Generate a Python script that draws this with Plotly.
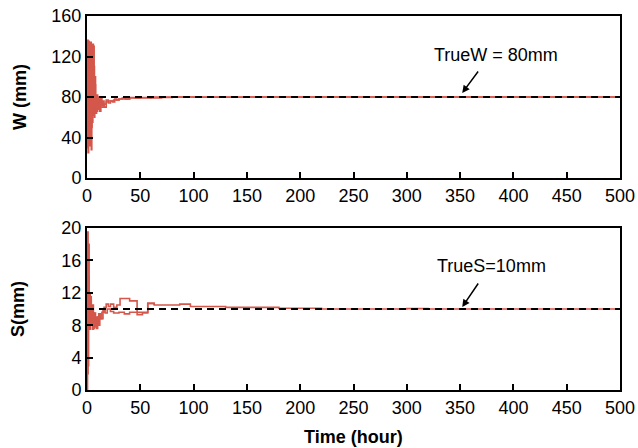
import plotly.graph_objects as go
from plotly.subplots import make_subplots

# ---- data ----
t_w1 = [0, 0.5, 1.0, 1.5, 2.0, 2.5, 3.0, 3.5, 4.0, 4.5, 5.0, 5.5, 6.0, 6.5, 7.0, 7.5, 8.0, 9.0, 10, 11,
        12, 13, 14, 15, 16, 18, 20, 22, 24, 26, 28, 30, 33, 36, 40, 45, 50, 60, 70, 80, 100, 150, 200, 300, 500]
w1 = [30, 136, 25, 135, 32, 128, 40, 134, 28, 120, 55, 132, 62, 110, 68, 92, 64, 82, 70, 78,
      66, 80, 72, 76, 70, 77, 74, 76, 75, 78, 77, 78, 79, 78, 79.5, 79, 79.5, 79, 79.5, 80, 79.8, 80, 80, 80, 80]

t_w2 = [0, 0.7, 1.3, 2.0, 2.7, 3.3, 4.0, 4.7, 5.3, 6.0, 6.7, 7.3, 8.0, 9.0, 10, 11, 12, 14, 16, 18,
        20, 25, 30, 40, 60, 500]
w2 = [35, 100, 45, 122, 38, 95, 50, 115, 72, 130, 60, 100, 72, 66, 80, 68, 74, 70, 73, 75,
      76, 77, 78, 79, 80, 80]

t_s1 = [0, 0.5, 1.0, 1.5, 2.0, 2.5, 3.0, 3.5, 4, 5, 6, 7, 8, 9, 10, 11, 12, 14, 16, 18,
        20, 22, 25, 28, 31, 40, 47, 57, 63, 70, 87, 97, 130, 180, 220, 300, 320, 500]
s1 = [0, 19.5, 3, 18, 8, 12, 9, 11.5, 8, 10.5, 7.6, 9.5, 7.8, 9, 8.2, 9.4, 8.8, 9.6, 10.2, 10.6,
      10.3, 10.6, 10.2, 10.5, 11.3, 11.0, 9.6, 10.7, 10.5, 10.5, 10.6, 10.3, 10.2, 10.1, 10.0, 10.05, 10.0, 10.0]

t_s2 = [0, 1, 2, 3, 4, 5, 6, 7, 8, 9, 10, 11, 12, 13, 15, 17, 19, 22, 25, 30,
        35, 40, 47, 52, 57, 63]
s2 = [2, 14, 7.5, 11, 8.5, 7.5, 9.5, 7.8, 8.5, 7.6, 9.0, 8.0, 9.4, 8.8, 9.8, 9.5, 10.0, 9.7, 9.5, 9.6,
      9.4, 9.6, 9.3, 9.5, 10.7, 10.5]

true_w = 80
true_s = 10
t_range = [0, 500]
x_ticks = [0, 50, 100, 150, 200, 250, 300, 350, 400, 450, 500]
w_ticks = [0, 40, 80, 120, 160]
s_ticks = [0, 4, 8, 12, 16, 20]

RED = "#d4574b"
FONT = "Liberation Sans, Arial, sans-serif"

fig = make_subplots(rows=2, cols=1, vertical_spacing=50 / 374)

for t, v in [(t_w1, w1), (t_w2, w2)]:
    fig.add_trace(go.Scatter(x=t, y=v, mode="lines", line=dict(color=RED, width=1.6, shape="hv"),
                             showlegend=False), row=1, col=1)
fig.add_trace(go.Scatter(x=t_range, y=[true_w, true_w], mode="lines",
                         line=dict(color="black", width=2, dash="7px,5px"), showlegend=False), row=1, col=1)

for t, v in [(t_s1, s1), (t_s2, s2)]:
    fig.add_trace(go.Scatter(x=t, y=v, mode="lines", line=dict(color=RED, width=1.6, shape="hv"),
                             showlegend=False), row=2, col=1)
fig.add_trace(go.Scatter(x=t_range, y=[true_s, true_s], mode="lines",
                         line=dict(color="black", width=2, dash="7px,5px"), showlegend=False), row=2, col=1)

axis_common = dict(showline=True, linewidth=2, linecolor="black", mirror=True,
                   ticks="inside", ticklen=6, tickwidth=1.5, tickcolor="black",
                   showgrid=False, zeroline=False, automargin=False,
                   tickfont=dict(size=18, color="black", family=FONT))

for r in (1, 2):
    fig.update_xaxes(range=t_range, tickvals=x_ticks, **axis_common, row=r, col=1)
fig.update_yaxes(range=[0, 160], tickvals=w_ticks, row=1, col=1, **axis_common,
                 title=dict(text="<b>W (mm)</b>", font=dict(size=18, color="black", family=FONT), standoff=20))
fig.update_yaxes(range=[0, 20], tickvals=s_ticks, row=2, col=1, **axis_common,
                 title=dict(text="<b>S(mm)</b>", font=dict(size=18, color="black", family=FONT), standoff=32))

# x-axis title
fig.add_annotation(x=0.5, y=-47 / 374, xref="paper", yref="paper", text="<b>Time (hour)</b>",
                   showarrow=False, yanchor="middle", xanchor="center",
                   font=dict(size=18, color="black", family=FONT))

# annotations
fig.add_annotation(x=352, y=84, xref="x", yref="y", ax=17, ay=-23, text="", showarrow=True,
                   arrowhead=2, arrowsize=1, arrowwidth=1.5, arrowcolor="black")
fig.add_annotation(x=384, y=121.5, xref="x", yref="y", text="TrueW = 80mm", showarrow=False,
                   font=dict(size=18, color="black", family=FONT))
fig.add_annotation(x=352, y=10.25, xref="x2", yref="y2", ax=17, ay=-25, text="", showarrow=True,
                   arrowhead=2, arrowsize=1, arrowwidth=1.5, arrowcolor="black")
fig.add_annotation(x=379, y=15.3, xref="x2", yref="y2", text="TrueS=10mm", showarrow=False,
                   font=dict(size=18, color="black", family=FONT))

fig.update_layout(width=638, height=448, margin=dict(l=87, r=18, t=16, b=58),
                  plot_bgcolor="white", paper_bgcolor="white",
                  font=dict(family=FONT, color="black"))

# remove the browser's default 8px body margin so the figure sits at the page corner
fig.write_html("out.html", config={"displayModeBar": False},
               post_script="document.body.style.margin='0px';")
